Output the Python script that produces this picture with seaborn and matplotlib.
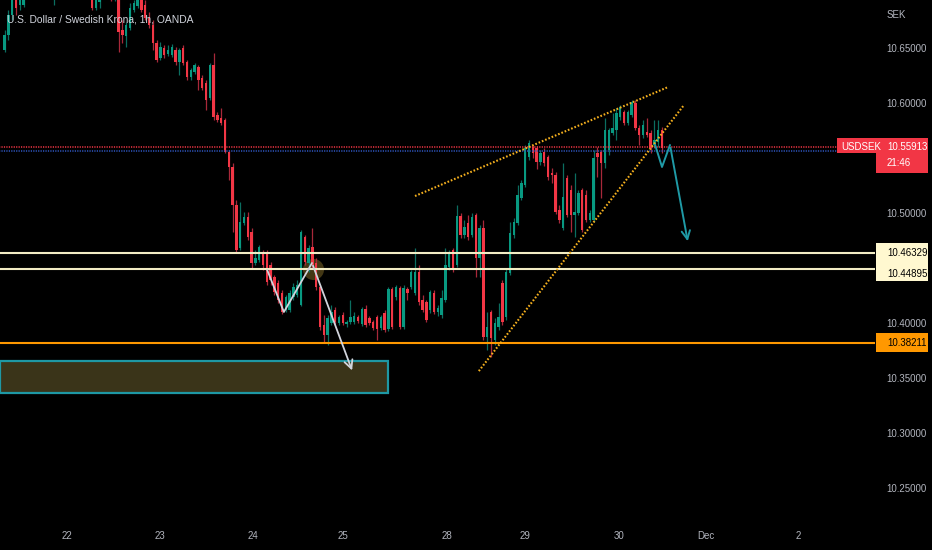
import matplotlib
matplotlib.use("Agg")
import matplotlib.pyplot as plt
import matplotlib.transforms as mtransforms
from matplotlib.patches import Rectangle
from matplotlib import font_manager
import numpy as np
import pandas as pd
import seaborn as sns

# ---------------- data (USDSEK, 1h candles) ----------------
opens = [
    10.6481, 10.6618, 10.6800, 10.6936, 10.6891, 10.6890, 10.7000, 10.7080, 10.7150, 10.7120,
    10.7210, 10.7260, 10.7190, 10.7100, 10.7170, 10.7250, 10.7310, 10.7270, 10.7180, 10.7230,
    10.7160, 10.7100, 10.7050, 10.6963, 10.6863, 10.6918, 10.6991, 10.7027, 10.6972, 10.6954,
    10.6991, 10.6663, 10.6609, 10.6681, 10.6845, 10.6881, 10.6936, 10.6891, 10.6772, 10.6709,
    10.6545, 10.6408, 10.6499, 10.6445, 10.6436, 10.6481, 10.6372, 10.6499, 10.6372, 10.6236,
    10.6281, 10.6327, 10.6227, 10.6181, 10.6045, 10.6345, 10.5891, 10.5863, 10.5845, 10.5554,
    10.5418, 10.5073, 10.4681, 10.4909, 10.4963, 10.4827, 10.4545, 10.4572, 10.4645, 10.4636,
    10.4527, 10.4418, 10.4363, 10.4272, 10.4118, 10.4118, 10.4236, 10.4254, 10.4164, 10.4781,
    10.4545, 10.4691, 10.4545, 10.4327, 10.3982, 10.3891, 10.4000, 10.4118, 10.4000, 10.4073,
    10.3991, 10.4009, 10.4009, 10.4054, 10.3991, 10.4127, 10.4045, 10.4009, 10.4054, 10.3954,
    10.4091, 10.3945, 10.4309, 10.4236, 10.4318, 10.3963, 10.4309, 10.4327, 10.4272, 10.4464,
    10.4209, 10.4191, 10.4118, 10.4272, 10.4100, 10.4073, 10.4209, 10.4509, 10.4663, 10.4527,
    10.4972, 10.4800, 10.4909, 10.4800, 10.4981, 10.4591, 10.4863, 10.3872, 10.4100, 10.3845,
    10.3963, 10.4363, 10.4054, 10.4454, 10.4800, 10.4909, 10.5136, 10.5254, 10.5509, 10.5600,
    10.5591, 10.5463, 10.5554, 10.5509, 10.5363, 10.5345, 10.5027, 10.4863, 10.5318, 10.5209,
    10.4981, 10.4999, 10.5209, 10.5163, 10.4936, 10.4936, 10.5545, 10.5554, 10.5454, 10.5572,
    10.5727, 10.5754, 10.5872, 10.5918, 10.5818, 10.5891, 10.6000, 10.5772, 10.5709, 10.5736,
    10.5727, 10.5618, 10.5645, 10.5754,
]
highs = [
    10.6663, 10.6845, 10.6981, 10.6981, 10.7027, 10.7020, 10.7100, 10.7180, 10.7200, 10.7240,
    10.7300, 10.7280, 10.7210, 10.7200, 10.7280, 10.7350, 10.7340, 10.7290, 10.7260, 10.7250,
    10.7180, 10.7120, 10.7070, 10.7009, 10.6981, 10.7027, 10.7060, 10.7050, 10.7000, 10.7010,
    10.7010, 10.6754, 10.6736, 10.6909, 10.6936, 10.6981, 10.6963, 10.6936, 10.6827, 10.6754,
    10.6572, 10.6554, 10.6527, 10.6527, 10.6536, 10.6508, 10.6499, 10.6527, 10.6390, 10.6318,
    10.6363, 10.6345, 10.6254, 10.6209, 10.6363, 10.6454, 10.5918, 10.5954, 10.5863, 10.5572,
    10.5454, 10.5118, 10.5100, 10.5009, 10.5009, 10.4863, 10.4663, 10.4709, 10.4663, 10.4663,
    10.4554, 10.4436, 10.4391, 10.4300, 10.4254, 10.4300, 10.4363, 10.4391, 10.4845, 10.4800,
    10.4709, 10.4863, 10.4591, 10.4345, 10.4073, 10.4073, 10.4164, 10.4145, 10.4073, 10.4100,
    10.4027, 10.4209, 10.4100, 10.4073, 10.4145, 10.4164, 10.4063, 10.4027, 10.4073, 10.4073,
    10.4118, 10.4327, 10.4327, 10.4345, 10.4336, 10.4345, 10.4327, 10.4482, 10.4681, 10.4527,
    10.4254, 10.4209, 10.4300, 10.4300, 10.4164, 10.4300, 10.4681, 10.4663, 10.4681, 10.5073,
    10.4999, 10.4936, 10.4981, 10.4999, 10.4999, 10.4891, 10.4936, 10.4100, 10.4118, 10.4045,
    10.4182, 10.4391, 10.4500, 10.4918, 10.4954, 10.5254, 10.5300, 10.5618, 10.5663, 10.5618,
    10.5609, 10.5572, 10.5591, 10.5527, 10.5409, 10.5372, 10.5073, 10.5454, 10.5345, 10.5254,
    10.5363, 10.5209, 10.5227, 10.5209, 10.5027, 10.5572, 10.5600, 10.5572, 10.5863, 10.5772,
    10.5909, 10.5954, 10.5981, 10.5936, 10.5936, 10.6027, 10.6027, 10.5800, 10.5845, 10.5863,
    10.5754, 10.5845, 10.5845, 10.5781,
]
lows = [
    10.6463, 10.6572, 10.6754, 10.6800, 10.6845, 10.6870, 10.6980, 10.7050, 10.7090, 10.7100,
    10.7180, 10.7150, 10.7050, 10.6890, 10.7140, 10.7220, 10.7230, 10.7150, 10.7150, 10.7120,
    10.7060, 10.7010, 10.6960, 10.6845, 10.6845, 10.6863, 10.6970, 10.6950, 10.6930, 10.6930,
    10.6463, 10.6545, 10.6508, 10.6663, 10.6827, 10.6863, 10.6827, 10.6754, 10.6681, 10.6481,
    10.6372, 10.6390, 10.6408, 10.6427, 10.6418, 10.6345, 10.6254, 10.6345, 10.6209, 10.6209,
    10.6263, 10.6118, 10.6118, 10.5936, 10.6027, 10.5845, 10.5827, 10.5800, 10.5545, 10.5300,
    10.4827, 10.4645, 10.4663, 10.4891, 10.4754, 10.4500, 10.4527, 10.4554, 10.4482, 10.4345,
    10.4345, 10.4254, 10.4182, 10.4082, 10.4100, 10.4100, 10.4209, 10.4236, 10.4155, 10.4527,
    10.4464, 10.4500, 10.4300, 10.3936, 10.3827, 10.3800, 10.3982, 10.3991, 10.3982, 10.3982,
    10.3963, 10.3991, 10.3991, 10.4000, 10.3973, 10.3963, 10.3982, 10.3936, 10.3845, 10.3936,
    10.3918, 10.3927, 10.3945, 10.4209, 10.3945, 10.3945, 10.4209, 10.4309, 10.4254, 10.4164,
    10.4100, 10.4009, 10.4091, 10.4082, 10.4063, 10.4045, 10.4191, 10.4482, 10.4464, 10.4509,
    10.4772, 10.4772, 10.4754, 10.4781, 10.4418, 10.4418, 10.3845, 10.3754, 10.3691, 10.3800,
    10.3936, 10.3982, 10.4027, 10.4436, 10.4772, 10.4891, 10.5118, 10.5236, 10.5481, 10.5500,
    10.5400, 10.5436, 10.5427, 10.5300, 10.5272, 10.4991, 10.4909, 10.4845, 10.4963, 10.4827,
    10.4781, 10.4981, 10.4827, 10.4918, 10.4918, 10.4918, 10.5327, 10.5136, 10.5409, 10.5527,
    10.5709, 10.5663, 10.5845, 10.5800, 10.5800, 10.5872, 10.5754, 10.5618, 10.5682, 10.5691,
    10.5545, 10.5591, 10.5600, 10.5545,
]
closes = [
    10.6618, 10.6800, 10.6936, 10.6863, 10.6981, 10.7000, 10.7080, 10.7150, 10.7120, 10.7210,
    10.7260, 10.7190, 10.7100, 10.7170, 10.7250, 10.7310, 10.7270, 10.7180, 10.7230, 10.7160,
    10.7100, 10.7050, 10.6990, 10.6863, 10.6936, 10.6991, 10.7027, 10.6972, 10.6954, 10.6991,
    10.6645, 10.6618, 10.6709, 10.6863, 10.6909, 10.6954, 10.6845, 10.6772, 10.6709, 10.6545,
    10.6390, 10.6508, 10.6436, 10.6481, 10.6508, 10.6372, 10.6481, 10.6363, 10.6236, 10.6299,
    10.6345, 10.6209, 10.6136, 10.6027, 10.6345, 10.5872, 10.5845, 10.5818, 10.5554, 10.5418,
    10.5073, 10.4663, 10.4918, 10.4963, 10.4781, 10.4545, 10.4591, 10.4691, 10.4527, 10.4373,
    10.4391, 10.4282, 10.4209, 10.4100, 10.4236, 10.4272, 10.4327, 10.4345, 10.4827, 10.4554,
    10.4681, 10.4527, 10.4327, 10.3963, 10.3891, 10.4045, 10.4100, 10.4009, 10.4054, 10.4000,
    10.4009, 10.4054, 10.4063, 10.4018, 10.4127, 10.3982, 10.4000, 10.3954, 10.3945, 10.4054,
    10.3936, 10.4309, 10.3963, 10.4327, 10.3963, 10.4318, 10.4272, 10.4464, 10.4464, 10.4191,
    10.4118, 10.4027, 10.4282, 10.4100, 10.4136, 10.4227, 10.4527, 10.4636, 10.4482, 10.4972,
    10.4800, 10.4872, 10.4781, 10.4963, 10.4591, 10.4863, 10.3872, 10.3963, 10.3863, 10.4000,
    10.4054, 10.4009, 10.4464, 10.4818, 10.4918, 10.5163, 10.5272, 10.5591, 10.5636, 10.5545,
    10.5463, 10.5545, 10.5454, 10.5327, 10.5345, 10.5009, 10.4936, 10.5145, 10.4981, 10.4981,
    10.5009, 10.5181, 10.4845, 10.4936, 10.4999, 10.5500, 10.5509, 10.5454, 10.5754, 10.5754,
    10.5772, 10.5909, 10.5963, 10.5818, 10.5918, 10.6009, 10.5772, 10.5709, 10.5800, 10.5709,
    10.5591, 10.5663, 10.5754, 10.55913,
]

day_labels = ["22", "23", "24", "25", "28", "29", "30", "Dec", "2"]
day_positions = [16.4, 40.9, 65.4, 89.1, 116.4, 137.0, 161.7, 184.6, 208.8]
price_ticks = [10.65, 10.60, 10.50, 10.40, 10.35, 10.30, 10.25]

resistance_levels = [10.46329, 10.44895]
support_level = 10.38211
last_price = 10.55913
symbol = "USDSEK"
countdown = "21:46"
currency = "SEK"
title = "U.S. Dollar / Swedish Krona, 1h, OANDA"

# hand-drawn annotations (bar index, price)
wedge_upper_x, wedge_upper_y = [108.0, 174.6], [10.5154, 10.6145]
wedge_lower_x, wedge_lower_y = [124.8, 178.8], [10.3563, 10.5982]
white_path_x = [69.1, 73.5, 80.9, 91.7]
white_path_y = [10.4482, 10.4100, 10.4545, 10.3545]
teal_path_x = [171.2, 173.0, 175.1, 179.9]
teal_path_y = [10.5618, 10.5418, 10.5618, 10.4718]
zone_x = [-1.2, 100.9]
zone_y = [10.3364, 10.3654]
marker_x, marker_y = [81.2], [10.4491]

# ---------------- style ----------------
sns.set_theme(style="dark", rc={
    "axes.facecolor": "black", "figure.facecolor": "black",
    "axes.edgecolor": "black", "axes.grid": False,
    "xtick.color": "#b2b5be", "ytick.color": "#b2b5be",
})
names = {f.name for f in font_manager.fontManager.ttflist}
narrow = "Liberation Sans Narrow" if "Liberation Sans Narrow" in names else "Liberation Sans"
plt.rcParams["font.family"] = [narrow, "DejaVu Sans"]
FS = 7.0

W, H = 932, 550
fig = plt.figure(figsize=(W / 100, H / 100), dpi=100, facecolor="black")
ax = fig.add_axes([0, 30 / H, 875 / W, 520 / H])
ax.set_facecolor("black")
for s in ax.spines.values():
    s.set_visible(False)

n = min(len(opens), len(highs), len(lows), len(closes))
df = pd.DataFrame({"o": opens[:n], "h": highs[:n], "l": lows[:n], "c": closes[:n]})
df["i"] = np.arange(n)
df["up"] = df["c"] >= df["o"]

up_col, dn_col = "#089981", "#f23645"
wick_up, wick_dn = "#0b6e60", "#a8283a"

# zone rectangle (behind)
ax.add_patch(Rectangle((zone_x[0], zone_y[0]), zone_x[1] - zone_x[0], zone_y[1] - zone_y[0],
                       facecolor="#3a3419", edgecolor="#1e98a4", lw=1.6, zorder=1))
ax.scatter(marker_x, marker_y, s=230, color="#5a4a1c", alpha=0.75, linewidths=0, zorder=1)

# candles
ax.vlines(df["i"], df["l"], df["h"], colors=np.where(df["up"], wick_up, wick_dn), lw=0.9, zorder=2)
body = (df["c"] - df["o"]).abs().clip(lower=0.0004)
bottom = np.minimum(df["o"], df["c"])
ax.bar(df["i"], body, bottom=bottom, width=0.62,
       color=np.where(df["up"], up_col, dn_col), linewidth=0, zorder=3)

# horizontal levels
for lv in resistance_levels:
    ax.axhline(lv, color="#f2ecc4", lw=1.5, zorder=4)
ax.axhline(support_level, color="#ff9800", lw=1.5, zorder=4)
ax.plot([-2, 229], [last_price + 0.0009] * 2, color="#f23645", lw=1.1, ls=(0, (0.8, 0.8)), zorder=4)
ax.plot([-2, 229], [last_price - 0.0026] * 2, color="#2f57c0", lw=1.1, ls=(0, (0.8, 0.8)), zorder=4)

# rising wedge (dotted)
ax.plot(wedge_upper_x, wedge_upper_y, color="#f5b01e", lw=1.5, ls=(0, (0.8, 0.9)), zorder=5)
ax.plot(wedge_lower_x, wedge_lower_y, color="#f5b01e", lw=1.5, ls=(0, (0.8, 0.9)), zorder=5)

# paths with arrows
sns.lineplot(x=white_path_x[:3], y=white_path_y[:3], sort=False, estimator=None,
             color="#d1d4dc", lw=1.3, ax=ax, zorder=6)
ax.annotate("", xy=(white_path_x[3], white_path_y[3]), xytext=(white_path_x[2], white_path_y[2]),
            arrowprops=dict(arrowstyle="->,head_length=0.5,head_width=0.25", color="#d1d4dc", lw=1.3),
            zorder=6)
sns.lineplot(x=teal_path_x[:3], y=teal_path_y[:3], sort=False, estimator=None,
             color="#1f9aa6", lw=1.4, ax=ax, zorder=6)
ax.annotate("", xy=(teal_path_x[3], teal_path_y[3]), xytext=(teal_path_x[2], teal_path_y[2]),
            arrowprops=dict(arrowstyle="->,head_length=0.5,head_width=0.25", color="#1f9aa6", lw=1.4),
            zorder=6)

# axes scales
ax.set_xlim(-1.21, 229.05)
ax.set_ylim(10.2209, 10.6936)
ax.yaxis.tick_right()
ax.set_yticks(price_ticks)
ax.set_yticklabels([f"{t:.5f}" for t in price_ticks])
ax.set_xticks(day_positions)
ax.set_xticklabels(day_labels)
ax.tick_params(axis="y", length=0, pad=8.5, labelsize=FS, colors="#b2b5be")
ax.tick_params(axis="x", length=0, pad=8, labelsize=FS, colors="#b2b5be")
ax.set_xlabel("")
ax.set_ylabel("")

# price-axis labels
trans = mtransforms.blended_transform_factory(ax.transAxes, ax.transData)
bx0, bw = 1.001, 0.0594
tx = 1.0137
ax.add_patch(Rectangle((bx0, resistance_levels[1] - 0.0110), bw,
                       resistance_levels[0] - resistance_levels[1] + 0.0201,
                       transform=trans, clip_on=False, facecolor="#fff8d0", edgecolor="none", zorder=10))
ax.text(tx, resistance_levels[0], f"{resistance_levels[0]:.5f}", transform=trans, ha="left",
        va="center", fontsize=FS, color="black", clip_on=False, zorder=11)
ax.text(tx, resistance_levels[1] - 0.0045, f"{resistance_levels[1]:.5f}", transform=trans, ha="left",
        va="center", fontsize=FS, color="black", clip_on=False, zorder=11)
ax.add_patch(Rectangle((bx0, support_level - 0.0087), bw, 0.0174, transform=trans, clip_on=False,
                       facecolor="#ff9800", edgecolor="none", zorder=10))
ax.text(tx, support_level, f"{support_level:.5f}", transform=trans, ha="left", va="center",
        fontsize=FS, color="black", clip_on=False, zorder=11)
# last price label
lx0 = 837 / 875
ax.add_patch(Rectangle((lx0, last_price - 0.0046), bx0 - lx0, 0.0137, transform=trans,
                       clip_on=False, facecolor="#f23645", edgecolor="none", zorder=10))
ax.add_patch(Rectangle((bx0, last_price - 0.0227), bw, 0.0318, transform=trans,
                       clip_on=False, facecolor="#f23645", edgecolor="none", zorder=10))
ax.text(841 / 875, last_price + 0.0009, symbol, transform=trans, ha="left", va="center",
        fontsize=FS, color="white", clip_on=False, zorder=11)
ax.text(tx, last_price + 0.0009, f"{last_price:.5f}", transform=trans, ha="left", va="center",
        fontsize=FS, color="white", clip_on=False, zorder=11)
ax.text(tx, last_price - 0.0137, countdown, transform=trans, ha="left", va="center",
        fontsize=FS, color="white", clip_on=False, zorder=11)

fig.text(887 / W, 1 - 15 / H, currency, ha="left", va="center", fontsize=FS, color="#b2b5be")
fig.text(7 / W, 1 - 20 / H, title, ha="left", va="center", fontsize=7.4, color="#d1d4dc")

fig.savefig("out.png", dpi=100, facecolor="black")
